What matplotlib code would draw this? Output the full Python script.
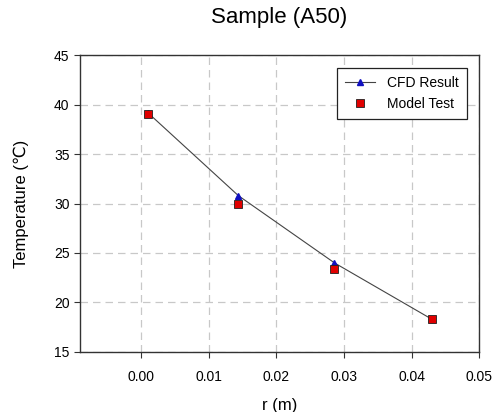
import matplotlib.pyplot as plt

plt.rcParams["font.family"] = ["Liberation Sans", "DejaVu Sans"]

r_cfd = [0.0010, 0.0144, 0.0286, 0.0430]
t_cfd = [39.2, 30.8, 24.0, 18.3]

r_test = [0.0010, 0.0144, 0.0286, 0.0430]
t_test = [39.05, 30.0, 23.4, 18.3]

xticks = [0.00, 0.01, 0.02, 0.03, 0.04, 0.05]
yticks = [15, 20, 25, 30, 35, 40, 45]

fig = plt.figure(figsize=(4.94, 4.12), dpi=100)
ax = fig.add_axes([0.162, 0.146, 0.808, 0.72])

ax.plot(r_cfd, t_cfd, color="#444444", lw=0.8, marker="^", ms=5,
        mfc="#1010c0", mec="#1010c0", label="CFD Result", zorder=3)
ax.plot(r_test, t_test, ls="none", marker="s", ms=5.5,
        mfc="#e00000", mec="#202020", mew=0.6, label="Model Test", zorder=4)

ax.set_xlim(-0.009, 0.05)
ax.set_ylim(15, 45)
ax.set_xticks(xticks)
ax.set_xticklabels([f"{v:.2f}" for v in xticks])
ax.set_yticks(yticks)
ax.tick_params(labelsize=10, direction="out", length=4, color="#333333")
ax.tick_params(axis="x", pad=9)
ax.grid(True, ls=(0, (6, 4)), color="#c8c8c8", lw=0.9)
for s in ax.spines.values():
    s.set_color("#333333")
    s.set_linewidth(1.0)

ax.set_xlabel("r (m)", fontsize=12, labelpad=10)
ax.set_ylabel("Temperature (℃)", fontsize=12, labelpad=18)
ax.set_title("Sample (A50)", fontsize=16, pad=23)

leg = ax.legend(loc="upper right", fontsize=10, frameon=True, fancybox=False,
                edgecolor="#222222", framealpha=1, borderaxespad=0.9,
                handlelength=2.2, labelspacing=0.5, borderpad=0.6)
leg.get_frame().set_linewidth(0.9)

fig.savefig("out.png", dpi=100)
